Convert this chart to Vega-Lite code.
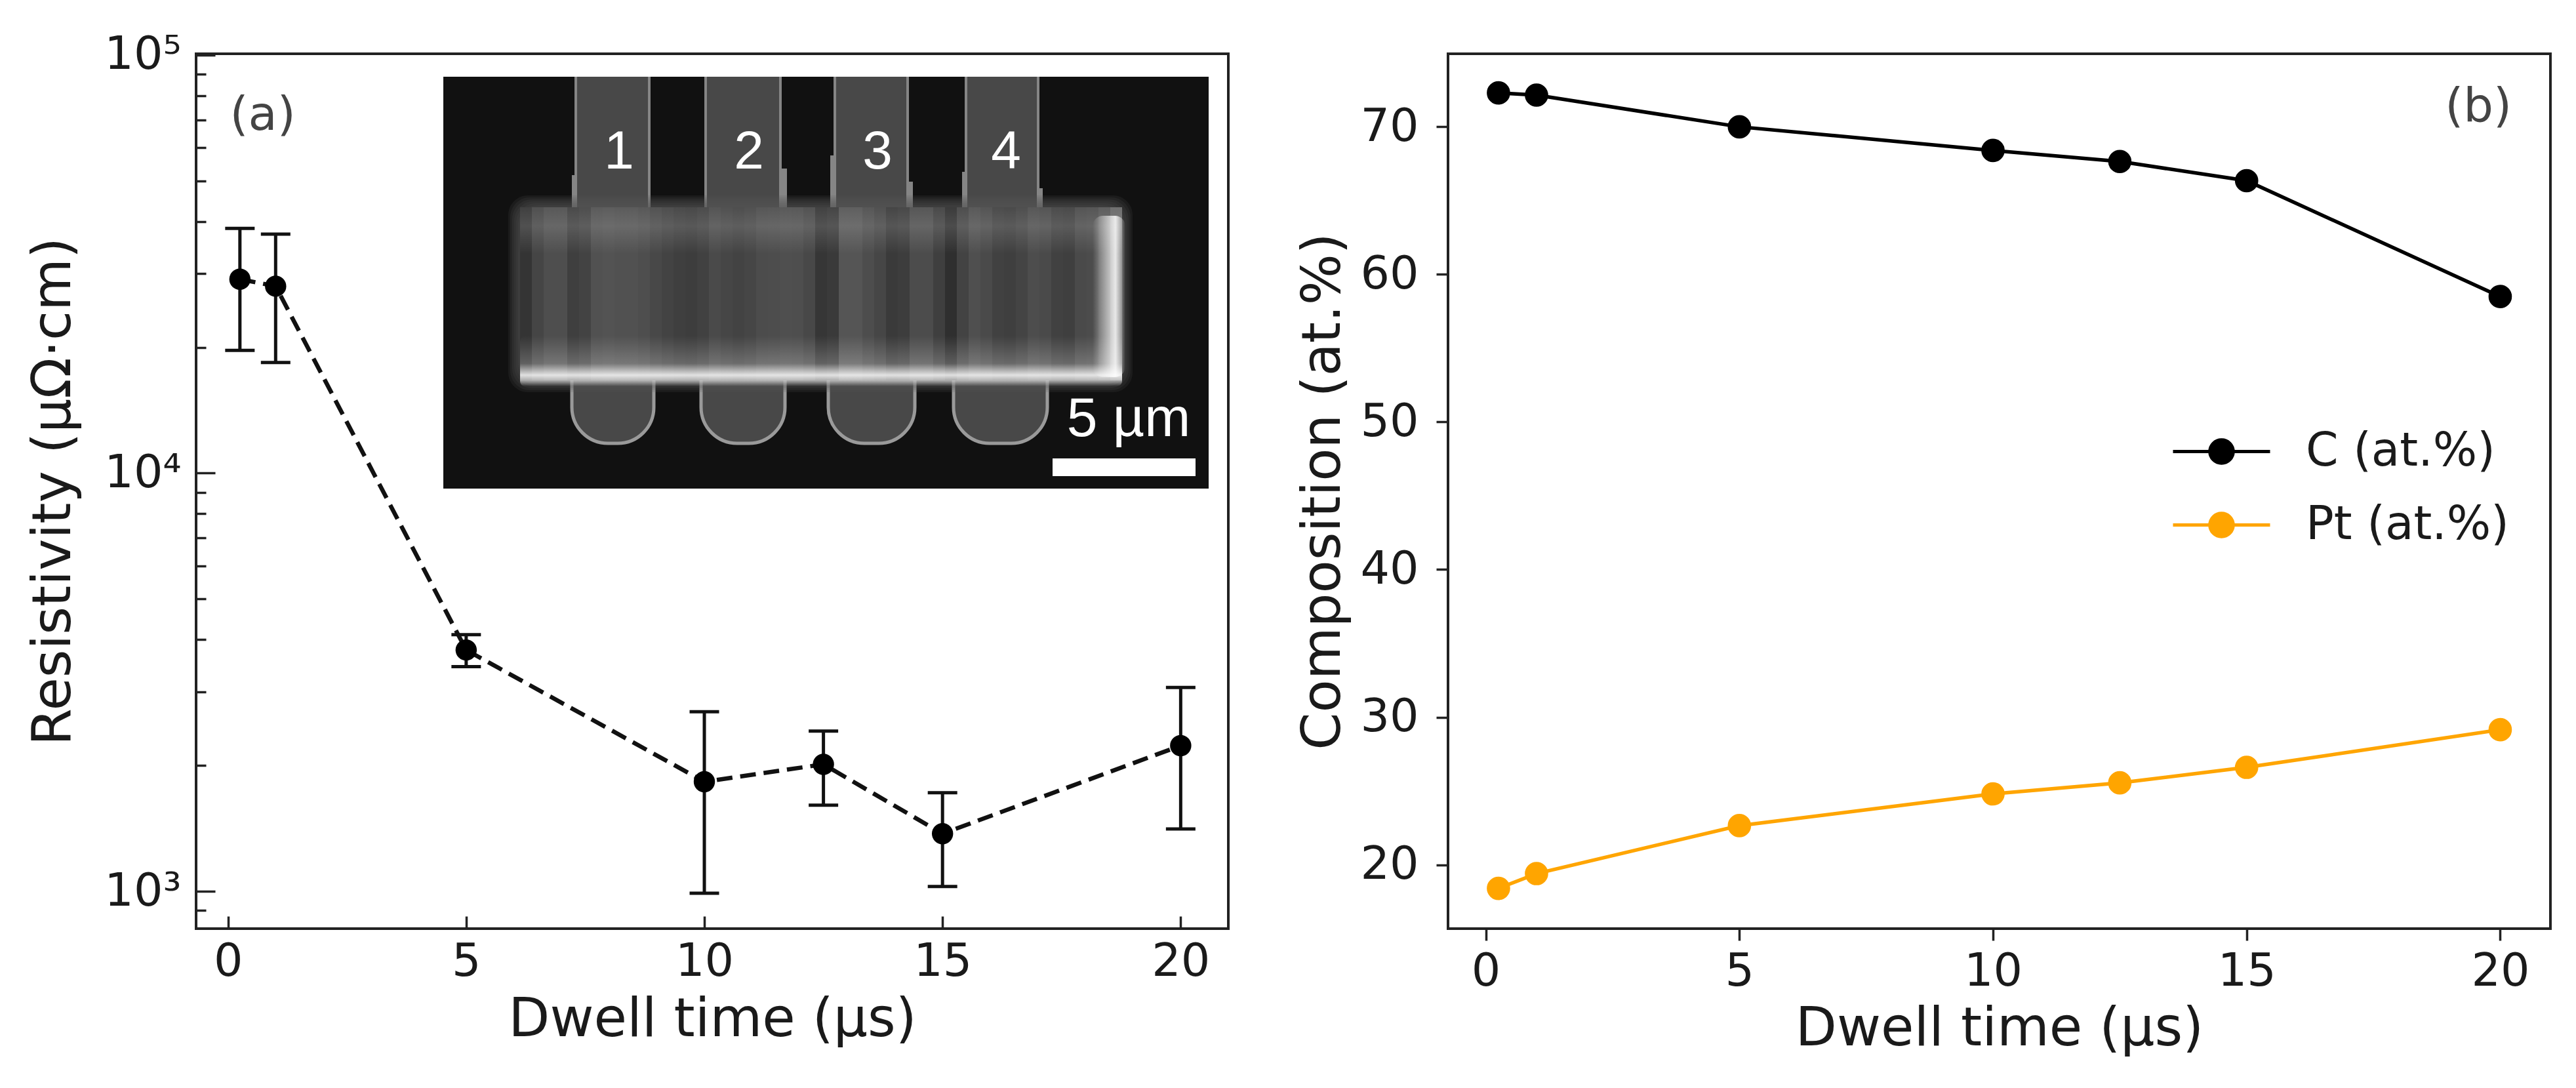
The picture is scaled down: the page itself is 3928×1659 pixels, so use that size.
{
  "$schema": "https://vega.github.io/schema/vega-lite/v6.json",
  "background": "white",
  "padding": {"left": 38, "top": 46, "right": 10, "bottom": 10},
  "spacing": 99,
  "config": {
    "font": "DejaVu Sans",
    "view": {"stroke": "#222222", "strokeWidth": 4},
    "axis": {"grid": false, "domain": false, "labelColor": "#1a1a1a", "titleColor": "#1a1a1a", "tickColor": "#222222", "tickWidth": 3.5, "labelFontSize": 70, "titleFontSize": 82, "titleFontWeight": "normal", "labelOverlap": false, "labelFlush": false}
  },
  "datasets": {
    "resistivity": [
      {"dwell": 0.25, "rho": 29100, "low": 19660, "high": 38500},
      {"dwell": 1, "rho": 28000, "low": 18400, "high": 37300},
      {"dwell": 5, "rho": 3776, "low": 3446, "high": 4108},
      {"dwell": 10, "rho": 1828, "low": 989, "high": 2688},
      {"dwell": 12.5, "rho": 2012, "low": 1606, "high": 2416},
      {"dwell": 15, "rho": 1373, "low": 1027, "high": 1720},
      {"dwell": 20, "rho": 2230, "low": 1410, "high": 3073}
    ],
    "composition": [
      {"dwell": 0.25, "element": "C (at.%)", "pct": 72.3},
      {"dwell": 1, "element": "C (at.%)", "pct": 72.15},
      {"dwell": 5, "element": "C (at.%)", "pct": 70.0},
      {"dwell": 10, "element": "C (at.%)", "pct": 68.4},
      {"dwell": 12.5, "element": "C (at.%)", "pct": 67.65},
      {"dwell": 15, "element": "C (at.%)", "pct": 66.35},
      {"dwell": 20, "element": "C (at.%)", "pct": 58.5},
      {"dwell": 0.25, "element": "Pt (at.%)", "pct": 18.4},
      {"dwell": 1, "element": "Pt (at.%)", "pct": 19.4},
      {"dwell": 5, "element": "Pt (at.%)", "pct": 22.65},
      {"dwell": 10, "element": "Pt (at.%)", "pct": 24.8},
      {"dwell": 12.5, "element": "Pt (at.%)", "pct": 25.55},
      {"dwell": 15, "element": "Pt (at.%)", "pct": 26.6},
      {"dwell": 20, "element": "Pt (at.%)", "pct": 29.15}
    ],
    "strips": [
      {"x":117,"x2":135,"y":199,"y2":463,"gray":55},{"x":135,"x2":153,"y":199,"y2":463,"gray":75},{"x":153,"x2":171,"y":199,"y2":463,"gray":85},
      {"x":171,"x2":189,"y":199,"y2":463,"gray":85},{"x":189,"x2":207,"y":199,"y2":463,"gray":68},{"x":207,"x2":225,"y":199,"y2":463,"gray":72},
      {"x":225,"x2":243,"y":199,"y2":463,"gray":88},{"x":243,"x2":261,"y":199,"y2":463,"gray":90},{"x":261,"x2":279,"y":199,"y2":463,"gray":88},
      {"x":279,"x2":297,"y":199,"y2":463,"gray":88},{"x":297,"x2":315,"y":199,"y2":463,"gray":85},{"x":315,"x2":333,"y":199,"y2":463,"gray":78},
      {"x":333,"x2":351,"y":199,"y2":463,"gray":72},{"x":351,"x2":369,"y":199,"y2":463,"gray":68},{"x":369,"x2":387,"y":199,"y2":463,"gray":66},
      {"x":387,"x2":405,"y":199,"y2":463,"gray":70},{"x":405,"x2":423,"y":199,"y2":463,"gray":80},{"x":423,"x2":441,"y":199,"y2":463,"gray":76},
      {"x":441,"x2":459,"y":199,"y2":463,"gray":72},{"x":459,"x2":477,"y":199,"y2":463,"gray":76},{"x":477,"x2":495,"y":199,"y2":463,"gray":82},
      {"x":495,"x2":513,"y":199,"y2":463,"gray":84},{"x":513,"x2":531,"y":199,"y2":463,"gray":86},{"x":531,"x2":549,"y":199,"y2":463,"gray":85},
      {"x":549,"x2":567,"y":199,"y2":463,"gray":78},{"x":567,"x2":585,"y":199,"y2":463,"gray":58},{"x":585,"x2":603,"y":199,"y2":463,"gray":62},
      {"x":603,"x2":621,"y":199,"y2":463,"gray":92},{"x":621,"x2":639,"y":199,"y2":463,"gray":92},{"x":639,"x2":657,"y":199,"y2":463,"gray":84},
      {"x":657,"x2":675,"y":199,"y2":463,"gray":76},{"x":675,"x2":693,"y":199,"y2":463,"gray":62},{"x":693,"x2":711,"y":199,"y2":463,"gray":66},
      {"x":711,"x2":729,"y":199,"y2":463,"gray":82},{"x":729,"x2":747,"y":199,"y2":463,"gray":82},{"x":747,"x2":765,"y":199,"y2":463,"gray":68},
      {"x":765,"x2":783,"y":199,"y2":463,"gray":50},{"x":783,"x2":801,"y":199,"y2":463,"gray":72},{"x":801,"x2":819,"y":199,"y2":463,"gray":86},
      {"x":819,"x2":837,"y":199,"y2":463,"gray":80},{"x":837,"x2":855,"y":199,"y2":463,"gray":70},{"x":855,"x2":873,"y":199,"y2":463,"gray":68},
      {"x":873,"x2":891,"y":199,"y2":463,"gray":74},{"x":891,"x2":909,"y":199,"y2":463,"gray":84},{"x":909,"x2":927,"y":199,"y2":463,"gray":80},
      {"x":927,"x2":945,"y":199,"y2":463,"gray":70},{"x":945,"x2":963,"y":199,"y2":463,"gray":68},{"x":963,"x2":981,"y":199,"y2":463,"gray":80},
      {"x":981,"x2":999,"y":199,"y2":463,"gray":82},{"x":999,"x2":1017,"y":199,"y2":463,"gray":92},{"x":1017,"x2":1035,"y":199,"y2":463,"gray":110}
    ]
  },
  "hconcat": [
    {
      "width": 1574,
      "height": 1334,
      "layer": [
        {
          "encoding": {
            "x": {"field": "x", "type": "quantitative", "axis": null, "scale": {"domain": [-377, 1197], "nice": false, "zero": false}},
            "y": {"field": "y", "type": "quantitative", "axis": null, "scale": {"domain": [1299, -35], "nice": false, "zero": false}}
          },
          "layer": [
            {
              "data": {"values": [{"x": 0, "x2": 1167, "y": 0, "y2": 628}]},
              "mark": {"type": "rect", "color": "#111111"},
              "encoding": {"x2": {"field": "x2"}, "y2": {"field": "y2"}}
            },
            {
              "data": {"values": [
                {"x": 200, "x2": 316, "y": 0, "y2": 205},
                {"x": 398, "x2": 516, "y": 0, "y2": 205},
                {"x": 595, "x2": 710, "y": 0, "y2": 205},
                {"x": 795, "x2": 909, "y": 0, "y2": 205},
                {"x": 196, "x2": 208, "y": 150, "y2": 205},
                {"x": 510, "x2": 524, "y": 140, "y2": 205},
                {"x": 590, "x2": 602, "y": 120, "y2": 205},
                {"x": 706, "x2": 716, "y": 160, "y2": 205},
                {"x": 791, "x2": 803, "y": 145, "y2": 205},
                {"x": 908, "x2": 914, "y": 170, "y2": 205}
              ]},
              "mark": {"type": "rect", "color": "#858585"},
              "encoding": {"x2": {"field": "x2"}, "y2": {"field": "y2"}}
            },
            {
              "data": {"values": [
                {"x": 204, "x2": 312, "y": 0, "y2": 205},
                {"x": 402, "x2": 512, "y": 0, "y2": 205},
                {"x": 599, "x2": 706, "y": 0, "y2": 205},
                {"x": 799, "x2": 905, "y": 0, "y2": 205}
              ]},
              "mark": {"type": "rect", "color": "#484848"},
              "encoding": {"x2": {"field": "x2"}, "y2": {"field": "y2"}}
            },
            {
              "data": {"values": [
                {"x": 196, "x2": 321, "y": 440, "y2": 559},
                {"x": 393, "x2": 521, "y": 440, "y2": 559},
                {"x": 587, "x2": 719, "y": 440, "y2": 559},
                {"x": 778, "x2": 921, "y": 440, "y2": 559}
              ]},
              "mark": {"type": "rect", "color": "#484848", "stroke": "#9a9a9a", "strokeWidth": 5, "cornerRadiusBottomLeft": 55, "cornerRadiusBottomRight": 55},
              "encoding": {"x2": {"field": "x2"}, "y2": {"field": "y2"}}
            },
            {
              "data": {"values": [
                {"x": 99, "x2": 1051, "y": 181, "y2": 481},
                {"x": 102, "x2": 1048, "y": 184, "y2": 478},
                {"x": 105, "x2": 1045, "y": 187, "y2": 475},
                {"x": 108, "x2": 1042, "y": 190, "y2": 472},
                {"x": 111, "x2": 1039, "y": 193, "y2": 469},
                {"x": 114, "x2": 1036, "y": 196, "y2": 466}
              ]},
              "mark": {"type": "rect", "color": "#5a5a5a", "opacity": 0.16, "cornerRadius": 30},
              "encoding": {"x2": {"field": "x2"}, "y2": {"field": "y2"}}
            },
            {
              "data": {"name": "strips"},
              "mark": {"type": "rect"},
              "encoding": {
                "x2": {"field": "x2"},
                "y2": {"field": "y2"},
                "color": {"field": "gray", "type": "quantitative", "legend": null, "scale": {"domain": [0, 255], "range": ["#000000", "#ffffff"]}}
              }
            },
            {
              "data": {"values": [{"x": 117, "x2": 1035, "y": 199, "y2": 270}]},
              "mark": {"type": "rect", "color": {"gradient": "linear", "x1": 0, "y1": 0, "x2": 0, "y2": 1, "stops": [{"offset": 0, "color": "rgba(255,255,255,0.06)"}, {"offset": 0.4, "color": "rgba(255,255,255,0.14)"}, {"offset": 1, "color": "rgba(255,255,255,0)"}]}},
              "encoding": {"x2": {"field": "x2"}, "y2": {"field": "y2"}}
            },
            {
              "data": {"values": [{"x": 117, "x2": 1035, "y": 395, "y2": 472}]},
              "mark": {"type": "rect", "cornerRadius": 8, "color": {"gradient": "linear", "x1": 0, "y1": 0, "x2": 0, "y2": 1, "stops": [{"offset": 0, "color": "rgba(255,255,255,0)"}, {"offset": 0.55, "color": "rgba(255,255,255,0.22)"}, {"offset": 0.78, "color": "rgba(255,255,255,0.85)"}, {"offset": 0.88, "color": "rgba(255,255,255,0.6)"}, {"offset": 1, "color": "rgba(255,255,255,0)"}]}},
              "encoding": {"x2": {"field": "x2"}, "y2": {"field": "y2"}}
            },
            {
              "data": {"values": [{"x": 990, "x2": 1040, "y": 212, "y2": 458}]},
              "mark": {"type": "rect", "cornerRadius": 16, "color": {"gradient": "linear", "x1": 0, "y1": 0, "x2": 1, "y2": 0, "stops": [{"offset": 0, "color": "rgba(255,255,255,0)"}, {"offset": 0.7, "color": "rgba(255,255,255,0.85)"}, {"offset": 1, "color": "rgba(255,255,255,0)"}]}},
              "encoding": {"x2": {"field": "x2"}, "y2": {"field": "y2"}}
            },
            {
              "data": {"values": [{"x": 929, "x2": 1147, "y": 582, "y2": 609}]},
              "mark": {"type": "rect", "color": "white"},
              "encoding": {"x2": {"field": "x2"}, "y2": {"field": "y2"}}
            },
            {
              "data": {"values": [
                {"x": 268, "y": 140, "label": "1"},
                {"x": 466, "y": 140, "label": "2"},
                {"x": 662, "y": 140, "label": "3"},
                {"x": 858, "y": 140, "label": "4"}
              ]},
              "mark": {"type": "text", "font": "Liberation Sans", "fontSize": 82, "color": "white", "align": "center", "baseline": "alphabetic"},
              "encoding": {"text": {"field": "label"}}
            },
            {
              "data": {"values": [{"x": 1045, "y": 548, "label": "5 µm"}]},
              "mark": {"type": "text", "font": "Liberation Sans", "fontSize": 84, "color": "white", "align": "center", "baseline": "alphabetic"},
              "encoding": {"text": {"field": "label"}}
            }
          ]
        },
        {
          "encoding": {
            "x": {
              "field": "dwell",
              "type": "quantitative",
              "title": "Dwell time (µs)",
              "scale": {"domain": [-0.67, 21], "nice": false, "zero": false},
              "axis": {"values": [0, 5, 10, 15, 20], "tickSize": -19, "labelPadding": 35, "titlePadding": 13}
            },
            "y": {
              "field": "rho",
              "type": "quantitative",
              "title": "Resistivity (µΩ·cm)",
              "scale": {"type": "log", "domain": [814, 100700], "nice": false},
              "axis": {
                "values": [900, 1000, 2000, 3000, 4000, 5000, 6000, 7000, 8000, 9000, 10000, 20000, 30000, 40000, 50000, 60000, 70000, 80000, 90000, 100000],
                "labelExpr": "datum.value == 1000 ? '10³' : datum.value == 10000 ? '10⁴' : datum.value == 100000 ? '10⁵' : ''",
                "tickSize": {"condition": {"test": "datum.value == 1000 || datum.value == 10000 || datum.value == 100000", "value": -29}, "value": -15},
                "labelPadding": 52,
                "titlePadding": 35
              }
            }
          },
          "layer": [
            {
              "data": {"name": "resistivity"},
              "mark": {"type": "errorbar", "ticks": {"size": 45, "thickness": 5, "color": "#111111", "opacity": 1}, "rule": {"strokeWidth": 5, "color": "#111111", "opacity": 1}},
              "encoding": {
                "y": {"field": "low", "type": "quantitative", "title": "Resistivity (µΩ·cm)"},
                "y2": {"field": "high"}
              }
            },
            {
              "data": {"name": "resistivity"},
              "mark": {"type": "line", "color": "#111111", "strokeWidth": 6.5, "strokeDash": [24, 12]},
              "encoding": {}
            },
            {
              "data": {"name": "resistivity"},
              "mark": {"type": "circle", "color": "#000000", "size": 1050, "opacity": 1},
              "encoding": {}
            },
            {
              "data": {"values": [{"dwell": 0.73, "rho": 71700, "label": "(a)"}]},
              "mark": {"type": "text", "fontSize": 72, "color": "#444444", "align": "center", "baseline": "middle"},
              "encoding": {"text": {"field": "label"}}
            }
          ]
        }
      ],
      "resolve": {"scale": {"x": "independent", "y": "independent"}, "axis": {"x": "independent", "y": "independent"}}
    },
    {
      "width": 1681,
      "height": 1334,
      "encoding": {
        "x": {
          "field": "dwell",
          "type": "quantitative",
          "title": "Dwell time (µs)",
          "scale": {"domain": [-0.745, 20.99], "nice": false, "zero": false},
          "axis": {"values": [0, 5, 10, 15, 20], "tickSize": 18, "labelPadding": 13, "titlePadding": 12}
        },
        "y": {
          "field": "pct",
          "type": "quantitative",
          "title": "Composition (at.%)",
          "scale": {"domain": [15.67, 74.95], "nice": false, "zero": false},
          "axis": {"values": [20, 30, 40, 50, 60, 70], "tickSize": 18, "labelPadding": 27, "titlePadding": 14}
        }
      },
      "layer": [
        {
          "data": {"name": "composition"},
          "mark": {"type": "line", "strokeWidth": 5.5},
          "encoding": {
            "detail": {"field": "element"},
            "color": {"field": "element", "type": "nominal", "legend": null, "scale": {"domain": ["C (at.%)", "Pt (at.%)"], "range": ["#000000", "#FFA500"]}}
          }
        },
        {
          "data": {"name": "composition"},
          "mark": {"type": "point", "filled": true, "size": 1000, "shape": "circle", "opacity": 1, "strokeWidth": 4},
          "encoding": {
            "fill": {
              "field": "element",
              "type": "nominal",
              "scale": {"domain": ["C (at.%)", "Pt (at.%)"], "range": ["#000000", "#FFA500"]},
              "legend": {
                "title": null,
                "orient": "none",
                "legendX": 3012,
                "legendY": 530,
                "labelFontSize": 71,
                "labelColor": "#1a1a1a",
                "labelOffset": 52,
                "labelLimit": 700,
                "symbolType": "M-1,0H1M-0.24,0A0.24,0.24 0 1 1 0.24,0A0.24,0.24 0 1 1 -0.24,0Z",
                "symbolSize": 21904,
                "symbolStrokeWidth": 5,
                "rowPadding": -47
              }
            },
            "stroke": {
              "field": "element",
              "type": "nominal",
              "scale": {"domain": ["C (at.%)", "Pt (at.%)"], "range": ["#000000", "#FFA500"]},
              "legend": {"title": null, "orient": "none", "legendX": 3012, "legendY": 530, "labelFontSize": 71, "labelColor": "#1a1a1a", "labelOffset": 52, "labelLimit": 700, "symbolType": "M-1,0H1M-0.24,0A0.24,0.24 0 1 1 0.24,0A0.24,0.24 0 1 1 -0.24,0Z", "symbolSize": 21904, "symbolStrokeWidth": 5, "rowPadding": -47}
            }
          }
        },
        {
          "data": {"values": [{"dwell": 19.57, "pct": 71.35, "label": "(b)"}]},
          "mark": {"type": "text", "fontSize": 72, "color": "#444444", "align": "center", "baseline": "middle"},
          "encoding": {"text": {"field": "label"}}
        }
      ]
    }
  ]
}
